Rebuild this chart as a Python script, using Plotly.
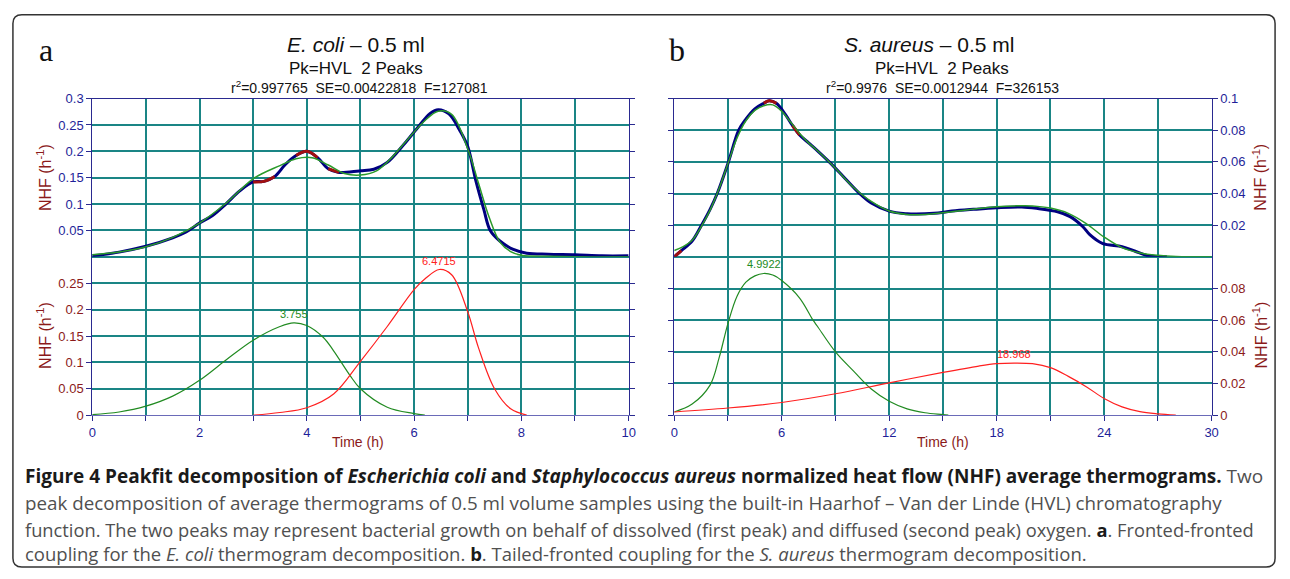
import plotly.graph_objects as go

W, H = 1290, 579

# ---------------- data ----------------
# E. coli - 0.5 ml : observed normalised heat flow
ecoli_t = [0, 0.5, 1, 1.5, 1.75, 2, 2.25, 2.5, 2.75, 3, 3.2, 3.4, 3.6, 3.8, 4, 4.2, 4.4,
           4.6, 4.8, 5, 5.25, 5.5, 5.8, 6.1, 6.3, 6.45, 6.65, 6.85, 7, 7.15, 7.3, 7.42,
           7.6, 7.85, 8.1, 8.5, 9, 9.5, 10]
ecoli_nhf = [0.002, 0.009, 0.020, 0.036, 0.047, 0.064, 0.079, 0.101, 0.125, 0.142, 0.143,
             0.152, 0.175, 0.192, 0.200, 0.188, 0.167, 0.160, 0.161, 0.163, 0.166, 0.179,
             0.212, 0.249, 0.272, 0.279, 0.271, 0.240, 0.209, 0.145, 0.090, 0.050, 0.030,
             0.014, 0.007, 0.005, 0.004, 0.002, 0.002]
# deviating parts of the observed curve (drawn in dark red)
ecoli_dev_t = [3.0, 3.2, 3.4, None, 3.8, 4.0, 4.2, None, 4.4, 4.6]
ecoli_dev = [0.142, 0.143, 0.152, None, 0.192, 0.200, 0.188, None, 0.167, 0.160]
# fitted sum
ecoli_fit_t = [0, 0.5, 1, 1.5, 2, 2.5, 3, 3.5, 3.8, 4.1, 4.4, 4.7, 5.0, 5.3, 5.6, 5.9, 6.2,
               6.45, 6.7, 7.0, 7.2, 7.4, 7.6, 7.8, 8.0, 8.5, 9, 10]
ecoli_fit = [0.004, 0.009, 0.019, 0.037, 0.064, 0.102, 0.148, 0.173, 0.186, 0.188, 0.174,
             0.158, 0.155, 0.163, 0.190, 0.225, 0.258, 0.276, 0.270, 0.205, 0.140, 0.075,
             0.028, 0.010, 0.003, 0.001, 0.0, 0.0]
# peak 1 (green) and peak 2 (red)
ecoli_p1_t = [0, 0.5, 1, 1.5, 2, 2.5, 3, 3.5, 3.755, 4, 4.3, 4.5, 4.8, 5, 5.5, 6, 6.2]
ecoli_p1 = [0.001, 0.006, 0.017, 0.036, 0.066, 0.105, 0.142, 0.168, 0.175, 0.170, 0.148,
            0.122, 0.076, 0.050, 0.015, 0.003, 0.0]
ecoli_p2_t = [3.0, 3.5, 4, 4.5, 5, 5.5, 6, 6.2, 6.4715, 6.7, 7, 7.2, 7.5, 7.8, 8.1]
ecoli_p2 = [0.0, 0.005, 0.014, 0.040, 0.102, 0.168, 0.238, 0.258, 0.276, 0.266, 0.196,
            0.128, 0.050, 0.012, 0.0]
ecoli_peaks = [(3.755, 0.175, "3.755"), (6.4715, 0.276, "6.4715")]

# S. aureus - 0.5 ml
saur_t = [0, 0.4, 1, 1.5, 2, 2.4, 3, 3.6, 4, 4.5, 5, 5.3, 5.7, 6.2, 6.6, 7, 7.5, 8, 8.65,
          9.5, 10.35, 11, 12, 13, 13.5, 14.5, 15.5, 16.7, 18, 19.4, 20.3, 21.4, 22.1, 22.8,
          23.2, 23.9, 25, 25.7, 26.4, 27.5]
saur_nhf = [0.0, 0.004, 0.010, 0.0195, 0.030, 0.040, 0.059, 0.080, 0.087, 0.0935, 0.097,
            0.0986, 0.097, 0.090, 0.083, 0.077, 0.072, 0.067, 0.060, 0.050, 0.040, 0.034,
            0.0289, 0.0272, 0.027, 0.0275, 0.0289, 0.030, 0.031, 0.0315, 0.0305, 0.0285,
            0.0254, 0.0192, 0.014, 0.0085, 0.0064, 0.0037, 0.0008, 0.0]
saur_dev_t = [0, 0.4, None, 5.0, 5.3, 5.7, None, 6.6, 7.0]
saur_dev = [0.0, 0.004, None, 0.097, 0.0986, 0.097, None, 0.083, 0.077]
saur_fit_t = [0, 0.5, 1, 1.5, 2, 2.5, 3, 3.5, 4, 4.5, 5, 5.5, 6, 6.5, 7, 7.5, 8, 9, 10, 11,
              12, 13, 14, 15, 16, 17, 18, 19, 20, 21, 22, 23, 24, 25, 26, 27, 28, 30]
saur_fit = [0.004, 0.0065, 0.0105, 0.019, 0.0295, 0.043, 0.059, 0.075, 0.086, 0.0925,
            0.0955, 0.096, 0.092, 0.085, 0.078, 0.072, 0.067, 0.056, 0.044, 0.035, 0.029,
            0.0268, 0.0268, 0.0278, 0.0292, 0.0305, 0.0316, 0.0322, 0.0322, 0.0308, 0.0275,
            0.021, 0.0125, 0.0058, 0.0025, 0.001, 0.0003, 0.0]
saur_p1_t = [0, 1, 2, 2.5, 3, 3.5, 4, 4.5, 4.9922, 5.5, 6, 7, 7.75, 8, 9, 10, 11, 12, 13,
             14, 15, 15.3]
saur_p1 = [0.002, 0.007, 0.019, 0.036, 0.058, 0.075, 0.084, 0.088, 0.0895, 0.0885, 0.085,
           0.074, 0.060, 0.056, 0.040, 0.028, 0.0165, 0.0088, 0.004, 0.0015, 0.0004, 0.0]
saur_p2_t = [0, 3, 6, 9, 12, 15, 17, 18, 18.968, 20, 21, 22, 23, 24, 25, 26, 27, 28]
saur_p2 = [0.002, 0.0045, 0.008, 0.0135, 0.0204, 0.027, 0.031, 0.0325, 0.0329, 0.0325,
           0.0300, 0.0245, 0.018, 0.0105, 0.0052, 0.0022, 0.0008, 0.0]
saur_peaks = [(4.9922, 0.0895, "4.9922"), (18.968, 0.0329, "18.968")]

# tick values / labels
ecoli_top_ticks = [0.05, 0.1, 0.15, 0.2, 0.25, 0.3]
ecoli_top_text = ["0.05", "0.1", "0.15", "0.2", "0.25", "0.3"]
ecoli_bot_ticks = [0, 0.05, 0.1, 0.15, 0.2, 0.25]
ecoli_bot_text = ["0", "0.05", "0.1", "0.15", "0.2", "0.25"]
saur_top_ticks = [0.02, 0.04, 0.06, 0.08, 0.1]
saur_top_text = ["0.02", "0.04", "0.06", "0.08", "0.1"]
saur_bot_ticks = [0, 0.02, 0.04, 0.06, 0.08]
saur_bot_text = ["0", "0.02", "0.04", "0.06", "0.08"]
ecoli_x_ticks = [0, 2, 4, 6, 8, 10]
ecoli_x_text = ["0", "2", "4", "6", "8", "10"]
saur_x_ticks = [0, 6, 12, 18, 24, 30]
saur_x_text = ["0", "6", "12", "18", "24", "30"]

# ---------------- styling ----------------
NAVY = "#000080"
AXIS = "#2a2a90"
TICKC = "#1f1f99"
DRED = "#8b1a1a"
TEAL = "#1a8585"
GREEN = "#2a9a2a"
COMPG = "#228b22"
COMPR = "#ff2020"
FONT = "Liberation Sans, Arial, sans-serif"


def fx(p):
    return p / W


def fy(p):
    return 1 - p / H


LX = [fx(89), fx(630)]
RX = [fx(676), fx(1218)]
TOP = [fy(256.5), fy(94)]
BOT = [fy(419), fy(256.5)]

fig = go.Figure()


def line(x, y, xa, ya, color, width):
    fig.add_trace(go.Scatter(x=x, y=y, xaxis=xa, yaxis=ya, mode="lines",
                             line=dict(color=color, width=width, shape="spline"),
                             hoverinfo="skip", connectgaps=False))


# E. coli
line(ecoli_t, ecoli_nhf, "x", "y", NAVY, 3)
line(ecoli_dev_t, ecoli_dev, "x", "y", "#a01010", 3)
line(ecoli_fit_t, ecoli_fit, "x", "y", GREEN, 1.5)
line(ecoli_p1_t, ecoli_p1, "x2", "y2", COMPG, 1.2)
line(ecoli_p2_t, ecoli_p2, "x2", "y2", COMPR, 1.2)
# S. aureus
line(saur_t, saur_nhf, "x3", "y3", NAVY, 3)
line(saur_dev_t, saur_dev, "x3", "y3", "#a01010", 3)
line(saur_fit_t, saur_fit, "x3", "y3", GREEN, 1.5)
line(saur_p1_t, saur_p1, "x4", "y4", COMPG, 1.2)
line(saur_p2_t, saur_p2, "x4", "y4", COMPR, 1.2)

grid = dict(showgrid=True, gridcolor=TEAL, gridwidth=2)
tfont = dict(family=FONT, size=13, color=TICKC)


def xminor(step, ticks):
    return dict(dtick=step, tick0=0, showgrid=True, gridcolor=TEAL, gridwidth=2,
                ticks=ticks, ticklen=5, tickcolor=AXIS)


top_zero = dict(zeroline=True, zerolinecolor=TEAL, zerolinewidth=2)

fig.update_layout(
    width=W, height=H, margin=dict(l=0, r=0, t=0, b=0),
    paper_bgcolor="white", plot_bgcolor="white", showlegend=False,
    xaxis=dict(domain=LX, anchor="y", range=[0, 10], tickvals=ecoli_x_ticks,
               showticklabels=False, ticks="", side="top", showline=True,
               linecolor=AXIS, linewidth=1, zeroline=False, minor=xminor(1, ""), **grid),
    yaxis=dict(domain=TOP, anchor="x", range=[0, 0.3], tickvals=ecoli_top_ticks,
               ticktext=ecoli_top_text, tickfont=tfont, ticks="outside", ticklen=5,
               tickcolor=AXIS, showline=True, linecolor=AXIS, mirror="ticks",
               **top_zero, **grid),
    xaxis2=dict(domain=LX, anchor="y2", range=[0, 10], tickvals=ecoli_x_ticks,
                ticktext=ecoli_x_text, tickfont=tfont, ticks="outside", ticklen=5,
                tickcolor=AXIS, showline=True, linecolor="#6a6ab8", zeroline=False,
                minor=xminor(1, "outside"), **grid),
    yaxis2=dict(domain=BOT, anchor="x2", range=[0, 0.3], tickvals=ecoli_bot_ticks,
                ticktext=ecoli_bot_text, tickfont=dict(family=FONT, size=13, color=DRED),
                ticks="outside", ticklen=5, tickcolor=AXIS, showline=True,
                linecolor=AXIS, mirror="ticks", zeroline=False, **grid),
    xaxis3=dict(domain=RX, anchor="y3", range=[0, 30], tickvals=saur_x_ticks,
                showticklabels=False, ticks="", side="top", showline=True,
                linecolor=AXIS, linewidth=1, zeroline=False, minor=xminor(3, ""), **grid),
    yaxis3=dict(domain=TOP, anchor="x3", side="right", range=[0, 0.1],
                tickvals=saur_top_ticks, ticktext=saur_top_text, tickfont=tfont,
                ticks="outside", ticklen=5, tickcolor=AXIS, showline=True,
                linecolor=AXIS, mirror="ticks", **top_zero, **grid),
    xaxis4=dict(domain=RX, anchor="y4", range=[0, 30], tickvals=saur_x_ticks,
                ticktext=saur_x_text, tickfont=tfont, ticks="outside", ticklen=5,
                tickcolor=AXIS, showline=True, linecolor="#6a6ab8", zeroline=False,
                minor=xminor(3, "outside"), **grid),
    yaxis4=dict(domain=BOT, anchor="x4", side="right", range=[0, 0.1],
                tickvals=saur_bot_ticks, ticktext=saur_bot_text,
                tickfont=dict(family=FONT, size=13, color=DRED), ticks="outside",
                ticklen=5, tickcolor=AXIS, showline=True, linecolor=AXIS,
                mirror="ticks", zeroline=False, **grid),
)

ann = []


def text(x, y, s, size, color="#111", family=FONT, xanchor="center", angle=0):
    ann.append(dict(x=fx(x), y=fy(y), xref="paper", yref="paper", text=s, showarrow=False,
                    xanchor=xanchor, yanchor="middle", textangle=angle,
                    font=dict(family=family, size=size, color=color)))


SP = "\u00a0 "
# panel a
text(42, 44, "a", 32, "#111", "Liberation Serif, serif")
text(355, 39, "<i>E. coli</i> – 0.5 ml", 21)
text(355, 63, "Pk=HVL" + SP + "2 Peaks", 17)
text(359, 82, "r<sup>2</sup>=0.997765" + SP + "SE=0.00422818" + SP + "F=127081", 14)
# panel b
text(679, 44, "b", 32, "#111", "Liberation Serif, serif")
text(933, 39, "<i>S. aureus</i> – 0.5 ml", 21)
text(946, 63, "Pk=HVL" + SP + "2 Peaks", 17)
text(947, 82, "r<sup>2</sup>=0.9976" + SP + "SE=0.0012944" + SP + "F=326153", 14)
# axis titles
nhf = "NHF (h<sup>-1</sup>)"
text(41, 175, nhf, 16, DRED, angle=-90)
text(41, 337, nhf, 16, DRED, angle=-90)
text(1267, 175, nhf, 16, DRED, angle=-90)
text(1267, 337, nhf, 16, DRED, angle=-90)
text(357, 447, "Time (h)", 14, DRED)
text(947, 447, "Time (h)", 14, DRED)

# peak labels
for (px_, py_, lab), col in zip(ecoli_peaks, [COMPG, COMPR]):
    ann.append(dict(x=px_, y=py_, xref="x2", yref="y2", text=lab, showarrow=False,
                    yanchor="bottom", yshift=1, font=dict(family=FONT, size=11, color=col)))
for (px_, py_, lab), col in zip(saur_peaks, [COMPG, COMPR]):
    ann.append(dict(x=px_, y=py_, xref="x4", yref="y4", text=lab, showarrow=False,
                    yanchor="bottom", yshift=1, font=dict(family=FONT, size=11, color=col)))

# caption
CAP = "Open Sans, sans-serif"
B = "#1a1a1a"
G = "#505050"
cap_lines = [
    "<b>Figure 4 Peakfit decomposition of <i>Escherichia coli</i> and <i>Staphylococcus aureus</i> "
    "normalized heat flow (NHF) average thermograms.</b> <span style='color:%s'>Two</span>" % G,
    "peak decomposition of average thermograms of 0.5 ml volume samples using the built-in "
    "Haarhof – Van der Linde (HVL) chromatography",
    "function. The two peaks may represent bacterial growth on behalf of dissolved (first peak) "
    "and diffused (second peak) oxygen. <b><span style='color:%s'>a</span></b>. Fronted-fronted" % B,
    "coupling for the <i>E. coli</i> thermogram decomposition. <b><span style='color:%s'>b</span></b>. "
    "Tailed-fronted coupling for the <i>S. aureus</i> thermogram decomposition." % B,
]
cap_y = [481, 509, 536, 561]
cap_size = [19, 18.8, 18.3, 18.5]
for i, (s, yy, fs) in enumerate(zip(cap_lines, cap_y, cap_size)):
    text(19, yy, s, fs, B if i == 0 else G, CAP, xanchor="left")

fig.update_layout(annotations=ann)

# rounded border
x0, y0, x1, y1, r = 9, 8, 1282, 575, 9
path = (f"M {fx(x0 + r)} {fy(y0)} L {fx(x1 - r)} {fy(y0)} Q {fx(x1)} {fy(y0)} {fx(x1)} {fy(y0 + r)} "
        f"L {fx(x1)} {fy(y1 - r)} Q {fx(x1)} {fy(y1)} {fx(x1 - r)} {fy(y1)} "
        f"L {fx(x0 + r)} {fy(y1)} Q {fx(x0)} {fy(y1)} {fx(x0)} {fy(y1 - r)} "
        f"L {fx(x0)} {fy(y0 + r)} Q {fx(x0)} {fy(y0)} {fx(x0 + r)} {fy(y0)} Z")
fig.add_shape(type="path", path=path, xref="paper", yref="paper",
              line=dict(color="#333333", width=1.5), layer="above")

fig.write_html("out.html")
